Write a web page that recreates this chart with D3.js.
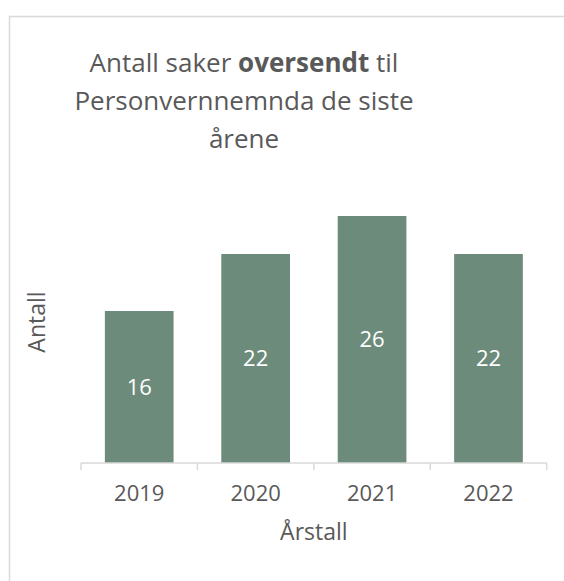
<!DOCTYPE html>
<html>
<head>
<meta charset="utf-8">
<script src="https://cdn.jsdelivr.net/npm/d3@7"></script>
<style>
  html, body { margin: 0; padding: 0; background: #fff; }
  svg { display: block; font-family: "Open Sans", sans-serif; }
</style>
</head>
<body>
<div id="chart"></div>
<script>
// Data
const years = ['2019', '2020', '2021', '2022'];
const counts = [16, 22, 26, 22];
const titleLines = [
    [{ t: 'Antall saker ', b: false }, { t: 'oversendt', b: true }, { t: ' til', b: false }],
    [{ t: 'Personvernnemnda de siste', b: false }],
    [{ t: 'årene', b: false }]
];

// Layout
const width = 564, height = 581;
const textColor = '#595959';
const barColor = '#6d8b7b';
const axisColor = '#d9d9d9';
const left = 81, right = 546.7, baseY = 463;

const svg = d3.select('#chart').append('svg')
    .attr('width', width)
    .attr('height', height);

// chart area border (right/bottom edges are cut off in the picture)
svg.append('rect')
    .attr('x', 9.5).attr('y', 16.5)
    .attr('width', 800).attr('height', 800)
    .attr('fill', 'none')
    .attr('stroke', axisColor)
    .attr('stroke-width', 1.5);

// Scales
const x = d3.scaleBand()
    .domain(years)
    .range([left, right])
    .paddingInner(0.41)
    .paddingOuter(0.205);

const y = d3.scaleLinear()
    .domain([0, 30])
    .range([baseY, baseY - 285]);

// Bars
svg.selectAll('rect.bar')
    .data(years)
    .join('rect')
    .attr('class', 'bar')
    .attr('x', d => x(d))
    .attr('width', x.bandwidth())
    .attr('y', (d, i) => y(counts[i]))
    .attr('height', (d, i) => y(0) - y(counts[i]))
    .attr('fill', barColor);

// Value labels, centered in bars
svg.selectAll('text.val')
    .data(years)
    .join('text')
    .attr('class', 'val')
    .attr('x', d => x(d) + x.bandwidth() / 2)
    .attr('y', (d, i) => (y(counts[i]) + y(0)) / 2)
    .attr('dy', '0.36em')
    .attr('text-anchor', 'middle')
    .attr('fill', '#fff')
    .style('font-size', '22px')
    .text((d, i) => counts[i]);

// X axis: line + ticks at band boundaries
const xAxis = d3.axisBottom(x).tickSize(0).tickPadding(22);
const gx = svg.append('g')
    .attr('transform', 'translate(0,' + baseY + ')')
    .call(xAxis);
gx.select('.domain').remove();
gx.selectAll('text')
    .attr('fill', textColor)
    .style('font-size', '22px')
    .style('font-family', '"Open Sans", sans-serif');

const boundaries = years.map(d => x(d) - x.step() * x.paddingInner() / 2)
    .concat([right]);
gx.append('line')
    .attr('x1', left).attr('x2', right)
    .attr('y1', 0).attr('y2', 0)
    .attr('stroke', axisColor)
    .attr('stroke-width', 1.5);
gx.selectAll('line.tk')
    .data(boundaries)
    .join('line')
    .attr('class', 'tk')
    .attr('x1', d => d).attr('x2', d => d)
    .attr('y1', 0).attr('y2', 7)
    .attr('stroke', axisColor)
    .attr('stroke-width', 1.5);

// Axis titles
svg.append('text')
    .attr('x', (left + right) / 2)
    .attr('y', 540)
    .attr('text-anchor', 'middle')
    .attr('fill', textColor)
    .style('font-size', '23px')
    .text('Årstall');

svg.append('text')
    .attr('transform', 'translate(45,322) rotate(-90)')
    .attr('text-anchor', 'middle')
    .attr('fill', textColor)
    .style('font-size', '23px')
    .text('Antall');

// Title
const title = svg.append('text')
    .attr('text-anchor', 'middle')
    .attr('fill', textColor)
    .style('font-size', '26px');
titleLines.forEach((line, i) => {
    line.forEach((part, j) => {
        const ts = title.append('tspan')
            .style('font-weight', part.b ? 'bold' : 'normal')
            .text(part.t);
        if (j === 0) ts.attr('x', 244).attr('y', 72 + i * 38);
    });
});
</script>
</body>
</html>
